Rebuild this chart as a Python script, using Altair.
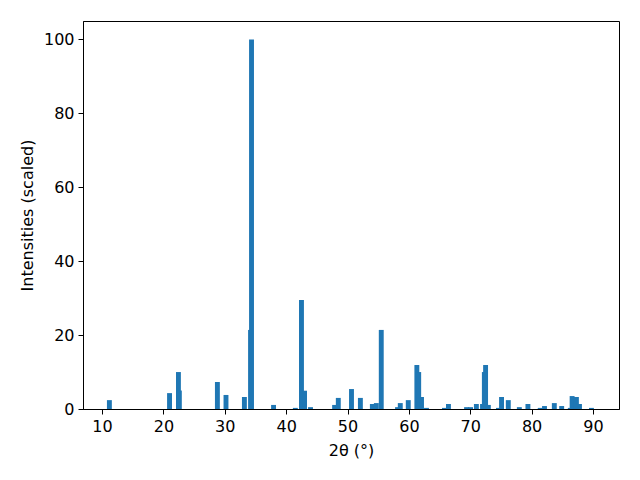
import altair as alt
import pandas as pd

# 2-theta peak positions (degrees) and scaled intensities
two_theta = [11.2, 21.0, 22.45, 22.6, 28.8, 30.2, 33.2, 34.2, 34.36, 37.95,
             41.5, 42.5, 43.0, 43.97, 47.9, 48.5, 50.65, 52.1, 54.05, 54.7,
             55.5, 58.15, 58.6, 59.9, 61.3, 61.6, 62.06, 62.87, 65.8, 66.45,
             69.4, 70.05, 71.0, 72.0, 72.3, 72.5, 72.95, 74.6, 75.1, 76.2,
             78.0, 79.4, 81.4, 82.1, 83.7, 84.9, 86.3, 86.6, 87.3, 87.8, 89.75]
intensity = [2.4, 4.3, 10.0, 5.0, 7.3, 3.8, 3.25, 21.4, 100.0, 1.1,
             0.3, 29.5, 4.95, 0.5, 1.1, 3.0, 5.4, 3.0, 1.35, 1.6,
             21.4, 0.5, 1.6, 2.4, 11.9, 10.0, 3.25, 0.3, 0.3, 1.35,
             0.5, 0.5, 1.35, 1.35, 10.0, 11.9, 1.1, 0.3, 3.25, 2.4,
             0.5, 1.35, 0.3, 0.8, 1.6, 0.8, 0.3, 3.5, 3.25, 1.35, 0.3]

x_ticks = [10, 20, 30, 40, 50, 60, 70, 80, 90]
y_ticks = [0, 20, 40, 60, 80, 100]

df = pd.DataFrame({"two_theta": two_theta, "intensity": intensity})
df["order"] = range(len(df))

FONT = "DejaVu Sans"

chart = (
    alt.Chart(df)
    .transform_calculate(x0="datum.two_theta - 0.4", x1="datum.two_theta + 0.4")
    .mark_rect(color="#1f77b4")
    .encode(
        x=alt.X("x0:Q",
                scale=alt.Scale(domain=[6.9, 94.24], nice=False, zero=False),
                axis=alt.Axis(values=x_ticks, title="2θ (°)", format="d")),
        x2="x1:Q",
        y=alt.Y("intensity:Q",
                scale=alt.Scale(domain=[0, 105], nice=False),
                axis=alt.Axis(values=y_ticks, title="Intensities (scaled)", format="d")),
        y2=alt.datum(0),
        order="order:Q",
    )
    .properties(
        width=536, height=388,
        autosize=alt.AutoSizeParams(type="none"),
        padding={"left": 75, "top": 13, "right": 13, "bottom": 63},
    )
    .configure_view(stroke="black", strokeWidth=1)
    .configure_axis(
        grid=False,
        domainColor="black",
        tickColor="black",
        tickSize=5,
        tickWidth=1,
        labelFont=FONT,
        labelFontSize=16,
        labelColor="black",
        labelPadding=4,
        titleFont=FONT,
        titleFontSize=16,
        titleFontWeight="normal",
        titleColor="black",
    )
    .configure_axisX(titlePadding=8, labelAngle=0)
    .configure_axisY(titlePadding=8)
)

chart.save("out.html", embed_options={"renderer": "svg", "actions": False})
